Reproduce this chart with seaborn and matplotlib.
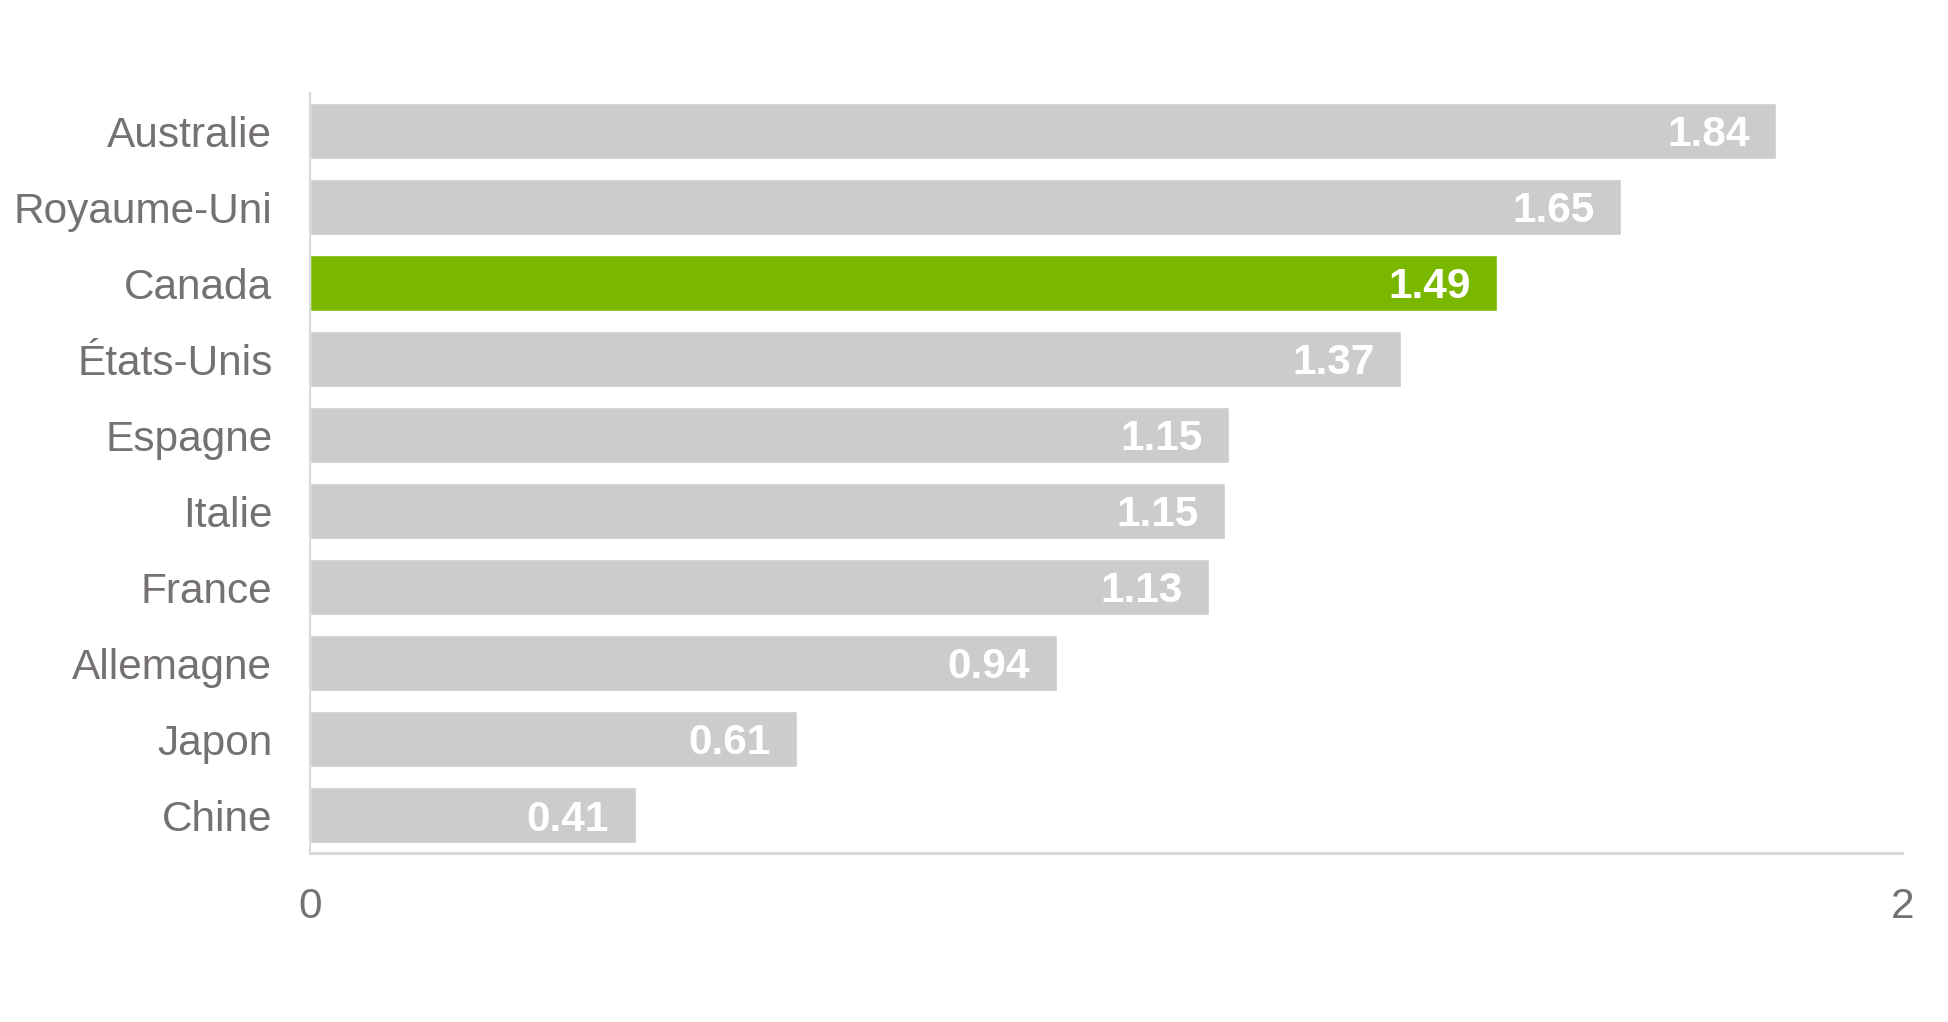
import matplotlib
matplotlib.use("Agg")
import matplotlib.pyplot as plt
from matplotlib import font_manager
import seaborn as sns
import pandas as pd

countries = ["Australie", "Royaume-Uni", "Canada", "États-Unis", "Espagne",
             "Italie", "France", "Allemagne", "Japon", "Chine"]
values = [1.842, 1.647, 1.491, 1.371, 1.154, 1.149, 1.129, 0.938, 0.612, 0.409]
value_labels = ["1.84", "1.65", "1.49", "1.37", "1.15", "1.15", "1.13", "0.94", "0.61", "0.41"]
highlight = "Canada"
x_ticks = [0, 2]
x_tick_labels = ["0", "2"]

GRAY = "#CCCCCC"
GREEN = "#7AB800"
TEXT = "#767171"

sns.set_theme(style="white")
names = {f.name for f in font_manager.fontManager.ttflist}
fam = "Liberation Sans Narrow" if "Liberation Sans Narrow" in names else "Liberation Sans"
plt.rcParams["font.family"] = [fam, "Liberation Sans", "DejaVu Sans"]
fs = 35 if fam == "Liberation Sans Narrow" else 30.5

df = pd.DataFrame({"country": countries, "value": values})
palette = {c: (GREEN if c == highlight else GRAY) for c in countries}

fig = plt.figure(figsize=(19.49, 10.22), dpi=100)
ax = fig.add_axes([0.159, 0.165, 0.817, 0.744])
sns.barplot(data=df, x="value", y="country", hue="country", palette=palette,
            order=countries, legend=False, width=0.735, ax=ax, saturation=1)

ax.set_xlim(0, 2)
ax.set_ylim(9.5, -0.5)
ax.set_xticks(x_ticks)
ax.set_xticklabels(x_tick_labels)
ax.set_xlabel("")
ax.set_ylabel("")
ax.tick_params(axis="both", length=0, labelsize=fs, colors=TEXT)
ax.tick_params(axis="y", pad=27)
ax.tick_params(axis="x", pad=24)
for s in ["top", "right"]:
    ax.spines[s].set_visible(False)
ax.spines["left"].set_color("#D9D9D9")
ax.spines["left"].set_linewidth(1.5)
ax.spines["bottom"].set_color("#D9D9D9")
ax.spines["bottom"].set_linewidth(2.2)

for i, (v, lab) in enumerate(zip(values, value_labels)):
    ax.annotate(lab, xy=(v, i), xytext=(-19, -3), textcoords="offset points",
                ha="right", va="center", color="white", fontsize=fs,
                fontweight="bold")

fig.savefig("out.png", dpi=100)
